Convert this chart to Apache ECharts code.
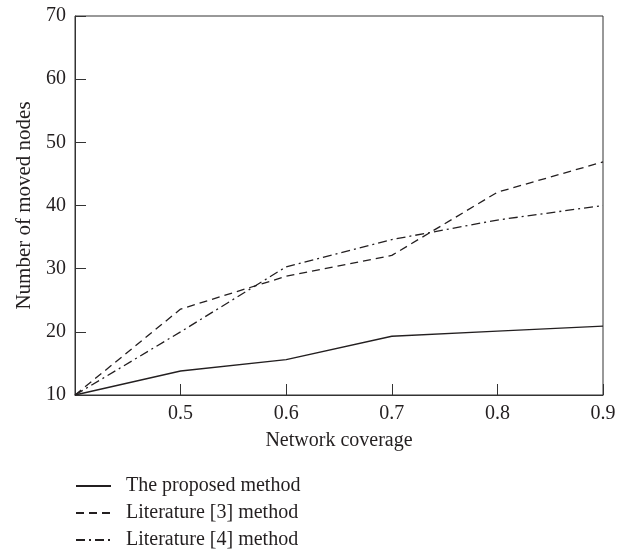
<!DOCTYPE html>
<html>
<head>
<meta charset="utf-8">
<script src="https://cdn.jsdelivr.net/npm/echarts@6/dist/echarts.min.js"></script>
<style>html,body{margin:0;padding:0;background:#fff}#c{width:630px;height:550px}</style>
</head>
<body>
<div id="c"></div>
<script>
const xValues = [0.4, 0.5, 0.6, 0.7, 0.8, 0.9];
const proposed = [10, 13.8, 15.6, 19.3, 20.1, 20.9];
const lit3 = [10, 23.6, 28.8, 32.1, 42.1, 46.9];
const lit4 = [10, 20.0, 30.3, 34.6, 37.7, 40.0];
const seriesNames = ['The proposed method', 'Literature [3] method', 'Literature [4] method'];
const xName = 'Network coverage';
const yName = 'Number of moved nodes';

const font = 'Liberation Serif';
const fs = 20;
const ink = '#231f20';
const styles = [
  { type: 'solid', width: 1.3 },
  { type: [8, 5], width: 1.3 },
  { type: [9, 4, 2, 4], width: 1.3 }
];
const allData = [proposed, lit3, lit4];

const chart = echarts.init(document.getElementById('c'), null, { renderer: 'canvas' });
chart.setOption({
  animation: false,
  backgroundColor: '#fff',
  grid: { left: 75, right: 27, top: 16, bottom: 155, show: true, borderColor: '#333', borderWidth: 1 },
  xAxis: {
    type: 'value', min: 0.4, max: 0.9, interval: 0.1,
    name: xName, nameLocation: 'middle', nameGap: 36,
    nameTextStyle: { fontFamily: font, fontSize: fs, color: ink },
    axisLine: { lineStyle: { color: '#333', width: 1 } },
    axisTick: { inside: true, length: 11, lineStyle: { color: '#333' } },
    splitLine: { show: false },
    axisLabel: {
      fontFamily: font, fontSize: fs, color: ink, margin: 9,
      formatter: v => (Math.abs(v - 0.4) < 1e-9 ? '' : v.toFixed(1))
    }
  },
  yAxis: {
    type: 'value', min: 10, max: 70, interval: 10,
    name: yName, nameLocation: 'middle', nameGap: 40, nameRotate: 90,
    nameTextStyle: { fontFamily: font, fontSize: 21, color: ink },
    axisLine: { lineStyle: { color: '#333', width: 1 } },
    axisTick: { inside: true, length: 11, lineStyle: { color: '#333' } },
    splitLine: { show: false },
    axisLabel: { fontFamily: font, fontSize: fs, color: ink, margin: 9 }
  },
  legend: {
    orient: 'vertical', left: 75, bottom: 0, padding: 0,
    itemWidth: 35, itemHeight: 10, itemGap: 7,
    itemStyle: { opacity: 0 },
    textStyle: { fontFamily: font, fontSize: fs, color: ink, padding: [0, 0, 0, 10] },
    data: seriesNames
  },
  series: seriesNames.map((n, i) => ({
    name: n, type: 'line', symbol: 'none',
    data: xValues.map((x, j) => [x, allData[i][j]]),
    lineStyle: { color: ink, type: styles[i].type, width: styles[i].width },
    itemStyle: { color: ink }
  }))
});
</script>
</body>
</html>
